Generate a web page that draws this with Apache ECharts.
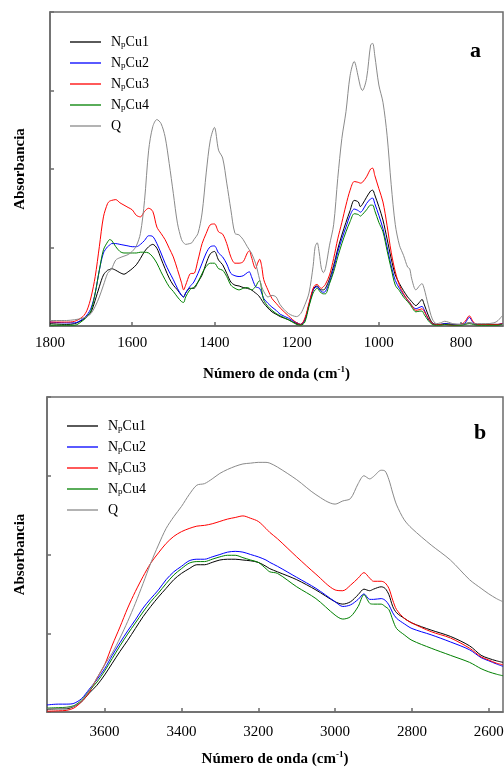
<!DOCTYPE html>
<html>
<head>
<meta charset="utf-8">
<title>FTIR</title>
<script src="https://cdn.jsdelivr.net/npm/echarts@6/dist/echarts.min.js"></script>
<style>
  html, body { margin: 0; padding: 0; background: #fff; }
  #chart { width: 504px; height: 767px; }
</style>
</head>
<body>
<div id="chart"></div>
<script>
// panel a: 1800-700 cm-1
const waveA = [
  1800, 1760, 1740, 1720, 1710, 1700, 1690, 1680, 1670, 1660,
  1655, 1650, 1640, 1630, 1620, 1610, 1600, 1590, 1580, 1570,
  1560, 1550, 1540, 1530, 1520, 1510, 1500, 1490, 1480, 1475,
  1470, 1460, 1455, 1450, 1440, 1430, 1420, 1410, 1400, 1390,
  1380, 1370, 1360, 1350, 1340, 1330, 1320, 1315, 1310, 1300,
  1295, 1290, 1285, 1280, 1270, 1260, 1250, 1240, 1220, 1200,
  1190, 1180, 1170, 1160, 1155, 1150, 1145, 1140, 1135, 1130,
  1120, 1110, 1100, 1090, 1080, 1070, 1060, 1050, 1045, 1040,
  1030, 1020, 1015, 1010, 1000, 990, 980, 970, 960, 950,
  940, 930, 925, 920, 910, 900, 895, 890, 880, 870,
  860, 850, 840, 820, 800, 790, 780, 770, 760, 740,
  720, 710, 700
]
const cu1A = [
  0.03, 0.02, 0.03, 0.08, 0.12, 0.18, 0.33, 0.50, 0.65, 0.71,
  0.72, 0.73, 0.71, 0.68, 0.66, 0.69, 0.73, 0.78, 0.86, 0.95,
  1.01, 1.04, 0.99, 0.86, 0.73, 0.61, 0.52, 0.46, 0.39, 0.37,
  0.42, 0.48, 0.48, 0.48, 0.56, 0.65, 0.80, 0.92, 0.95, 0.84,
  0.78, 0.67, 0.56, 0.52, 0.51, 0.49, 0.48, 0.47, 0.46, 0.42,
  0.40, 0.37, 0.33, 0.29, 0.23, 0.18, 0.15, 0.12, 0.08, 0.03,
  0.02, 0.08, 0.27, 0.46, 0.50, 0.51, 0.48, 0.46, 0.46, 0.48,
  0.60, 0.77, 0.98, 1.16, 1.32, 1.47, 1.60, 1.58, 1.52, 1.55,
  1.64, 1.72, 1.73, 1.67, 1.52, 1.35, 1.11, 0.86, 0.65, 0.54,
  0.45, 0.37, 0.34, 0.31, 0.26, 0.31, 0.34, 0.28, 0.14, 0.04,
  0.02, 0.02, 0.03, 0.02, 0.02, 0.03, 0.04, 0.03, 0.02, 0.02,
  0.02, 0.02, 0.03
]
const cu2A = [
  0.05, 0.04, 0.04, 0.09, 0.14, 0.23, 0.42, 0.71, 0.93, 1.01,
  1.03, 1.05, 1.05, 1.04, 1.03, 1.02, 1.01, 1.01, 1.04, 1.09,
  1.15, 1.14, 1.05, 0.93, 0.80, 0.69, 0.59, 0.48, 0.39, 0.37,
  0.42, 0.50, 0.53, 0.56, 0.67, 0.80, 0.93, 1.01, 1.02, 0.93,
  0.88, 0.79, 0.67, 0.64, 0.63, 0.64, 0.68, 0.69, 0.63, 0.50,
  0.49, 0.48, 0.42, 0.35, 0.29, 0.24, 0.20, 0.15, 0.10, 0.04,
  0.02, 0.08, 0.27, 0.46, 0.49, 0.50, 0.47, 0.44, 0.43, 0.44,
  0.56, 0.73, 0.94, 1.11, 1.26, 1.41, 1.49, 1.47, 1.45, 1.47,
  1.56, 1.62, 1.63, 1.56, 1.41, 1.24, 1.01, 0.77, 0.58, 0.48,
  0.40, 0.33, 0.30, 0.26, 0.22, 0.24, 0.25, 0.21, 0.09, 0.03,
  0.02, 0.02, 0.03, 0.02, 0.02, 0.04, 0.11, 0.04, 0.02, 0.02,
  0.02, 0.02, 0.03
]
const cu3A = [
  0.05, 0.05, 0.06, 0.12, 0.20, 0.37, 0.63, 1.01, 1.39, 1.56,
  1.59, 1.60, 1.61, 1.57, 1.54, 1.51, 1.48, 1.41, 1.39, 1.46,
  1.50, 1.46, 1.26, 1.18, 1.10, 0.99, 0.88, 0.72, 0.55, 0.46,
  0.52, 0.66, 0.67, 0.67, 0.84, 1.05, 1.18, 1.29, 1.30, 1.20,
  1.17, 1.05, 0.88, 0.80, 0.80, 0.82, 0.93, 0.96, 0.88, 0.73,
  0.80, 0.85, 0.76, 0.59, 0.46, 0.35, 0.29, 0.23, 0.13, 0.04,
  0.02, 0.10, 0.29, 0.48, 0.52, 0.53, 0.50, 0.48, 0.50, 0.53,
  0.65, 0.86, 1.11, 1.32, 1.54, 1.73, 1.84, 1.83, 1.82, 1.83,
  1.90, 2.00, 2.01, 1.92, 1.75, 1.58, 1.28, 0.94, 0.69, 0.52,
  0.41, 0.33, 0.30, 0.26, 0.20, 0.21, 0.22, 0.19, 0.10, 0.03,
  0.02, 0.02, 0.02, 0.01, 0.02, 0.06, 0.13, 0.05, 0.02, 0.02,
  0.02, 0.02, 0.03
]
const cu4A = [
  0.01, 0.01, 0.01, 0.07, 0.12, 0.20, 0.42, 0.71, 0.97, 1.07,
  1.10, 1.09, 1.01, 0.95, 0.93, 0.93, 0.93, 0.93, 0.94, 0.94,
  0.93, 0.88, 0.80, 0.69, 0.59, 0.50, 0.44, 0.37, 0.31, 0.30,
  0.37, 0.46, 0.48, 0.49, 0.56, 0.67, 0.76, 0.80, 0.80, 0.73,
  0.71, 0.63, 0.52, 0.48, 0.46, 0.48, 0.49, 0.48, 0.46, 0.50,
  0.55, 0.58, 0.46, 0.33, 0.25, 0.20, 0.16, 0.13, 0.08, 0.02,
  0.01, 0.05, 0.25, 0.42, 0.46, 0.48, 0.45, 0.42, 0.41, 0.41,
  0.54, 0.69, 0.88, 1.05, 1.20, 1.33, 1.43, 1.42, 1.40, 1.42,
  1.48, 1.54, 1.54, 1.47, 1.32, 1.20, 0.96, 0.73, 0.52, 0.45,
  0.37, 0.31, 0.28, 0.24, 0.18, 0.19, 0.19, 0.15, 0.07, 0.02,
  0.01, 0.01, 0.02, 0.01, 0.01, 0.02, 0.03, 0.02, 0.01, 0.01,
  0.01, 0.01, 0.02
]
const qA = [
  0.07, 0.07, 0.08, 0.10, 0.12, 0.16, 0.25, 0.37, 0.52, 0.67,
  0.70, 0.73, 0.84, 0.87, 0.89, 0.91, 0.95, 1.02, 1.18, 1.60,
  2.24, 2.54, 2.63, 2.58, 2.41, 2.07, 1.69, 1.31, 1.10, 1.06,
  1.04, 1.05, 1.06, 1.10, 1.18, 1.44, 1.95, 2.37, 2.53, 2.24,
  2.14, 1.82, 1.48, 1.18, 1.16, 1.10, 1.01, 0.97, 0.93, 0.80,
  0.70, 0.59, 0.50, 0.44, 0.37, 0.39, 0.37, 0.27, 0.16, 0.12,
  0.16, 0.27, 0.42, 0.76, 1.01, 1.06, 0.93, 0.74, 0.68, 0.73,
  1.03, 1.29, 1.88, 2.39, 2.73, 3.19, 3.37, 3.17, 3.05, 3.00,
  3.15, 3.58, 3.60, 3.45, 3.07, 2.85, 2.43, 1.80, 1.29, 1.03,
  0.90, 0.75, 0.73, 0.60, 0.46, 0.52, 0.54, 0.48, 0.27, 0.09,
  0.03, 0.04, 0.06, 0.03, 0.02, 0.03, 0.04, 0.03, 0.03, 0.03,
  0.04, 0.07, 0.13
]

// panel b: 3750-2560 cm-1
const waveB = [
  3750, 3720, 3700, 3680, 3660, 3640, 3620, 3600, 3580, 3560,
  3540, 3520, 3500, 3480, 3460, 3440, 3420, 3400, 3380, 3360,
  3340, 3320, 3300, 3280, 3260, 3240, 3220, 3200, 3180, 3170,
  3150, 3100, 3050, 3000, 2980, 2960, 2940, 2925, 2910, 2900,
  2880, 2870, 2860, 2850, 2840, 2820, 2800, 2750, 2700, 2650,
  2620, 2600, 2580, 2563
]
const cu1B = [
  0.035, 0.04, 0.04, 0.07, 0.13, 0.24, 0.34, 0.47, 0.62, 0.77,
  0.91, 1.06, 1.21, 1.34, 1.46, 1.57, 1.68, 1.76, 1.82, 1.87,
  1.87, 1.90, 1.93, 1.94, 1.94, 1.93, 1.92, 1.90, 1.85, 1.82,
  1.78, 1.68, 1.55, 1.40, 1.37, 1.40, 1.49, 1.56, 1.54, 1.56,
  1.59, 1.57, 1.49, 1.34, 1.26, 1.19, 1.13, 1.04, 0.96, 0.84,
  0.72, 0.68, 0.65, 0.63
]
const cu2B = [
  0.09, 0.10, 0.10, 0.11, 0.17, 0.29, 0.41, 0.55, 0.72, 0.88,
  1.03, 1.17, 1.32, 1.44, 1.55, 1.68, 1.78, 1.85, 1.92, 1.94,
  1.94, 1.97, 2.00, 2.03, 2.04, 2.03, 2.00, 1.97, 1.93, 1.90,
  1.85, 1.71, 1.57, 1.40, 1.34, 1.36, 1.43, 1.50, 1.43, 1.43,
  1.44, 1.42, 1.36, 1.26, 1.19, 1.12, 1.06, 0.98, 0.89, 0.79,
  0.69, 0.65, 0.61, 0.58
]
const cu3B = [
  0.01, 0.015, 0.02, 0.05, 0.13, 0.25, 0.43, 0.60, 0.85, 1.08,
  1.32, 1.53, 1.72, 1.89, 2.02, 2.14, 2.23, 2.29, 2.33, 2.36,
  2.37, 2.39, 2.42, 2.45, 2.47, 2.49, 2.46, 2.42, 2.33, 2.28,
  2.20, 1.97, 1.75, 1.55, 1.54, 1.61, 1.70, 1.77, 1.70, 1.66,
  1.66, 1.64, 1.57, 1.42, 1.30, 1.19, 1.13, 1.02, 0.94, 0.81,
  0.70, 0.66, 0.62, 0.60
]
const cu4B = [
  0.05, 0.055, 0.06, 0.08, 0.15, 0.27, 0.38, 0.52, 0.68, 0.84,
  0.99, 1.13, 1.27, 1.40, 1.51, 1.63, 1.74, 1.82, 1.89, 1.91,
  1.91, 1.94, 1.97, 1.99, 1.99, 1.96, 1.93, 1.90, 1.82, 1.78,
  1.76, 1.59, 1.44, 1.23, 1.18, 1.21, 1.34, 1.49, 1.38, 1.37,
  1.37, 1.34, 1.30, 1.17, 1.06, 0.98, 0.91, 0.81, 0.72, 0.63,
  0.55, 0.51, 0.48, 0.46
]
const qB = [
  0.04, 0.045, 0.05, 0.07, 0.14, 0.27, 0.43, 0.60, 0.75, 0.94,
  1.15, 1.38, 1.63, 1.89, 2.12, 2.33, 2.48, 2.61, 2.76, 2.88,
  2.90, 2.96, 3.03, 3.08, 3.12, 3.15, 3.16, 3.17, 3.17, 3.16,
  3.11, 2.95, 2.76, 2.64, 2.68, 2.71, 2.90, 3.00, 2.96, 2.99,
  3.07, 3.06, 2.95, 2.78, 2.63, 2.44, 2.33, 2.12, 1.93, 1.68,
  1.57, 1.50, 1.44, 1.40
]

const ticksA = [1800, 1600, 1400, 1200, 1000, 800]
const ticksB = [3600, 3400, 3200, 3000, 2800, 2600]

const names = ['NpCu1', 'NpCu2', 'NpCu3', 'NpCu4', 'Q']
const colors = ['#000000', '#0000ff', '#ff0000', '#008000', '#8a8a8a']

const serif = '"Liberation Serif", "Times New Roman", serif'
const axisColor = '#6b6b6b'

function zip(xs, ys) {
  return xs.map((x, i) => [x, ys[i]])
}

function legendLabel(name) {
  if (name === 'Q') return '{n|Q}'
  return '{n|N}{s|p}{n|' + name.slice(2) + '}'
}

function makeXAxis(gridIndex, min, max, ticks, nameGap, labelMargin) {
  return {
    gridIndex: gridIndex,
    type: 'value',
    inverse: true,
    min: min,
    max: max,
    name: 'Número de onda (cm{sup|-1})',
    nameLocation: 'middle',
    nameGap: nameGap,
    nameTextStyle: {
      fontFamily: serif,
      fontWeight: 'bold',
      fontSize: 15,
      color: '#000',
      lineHeight: 18,
      rich: {
        sup: { fontFamily: serif, fontWeight: 'bold', fontSize: 9, lineHeight: 9, verticalAlign: 'top', color: '#000' }
      }
    },
    axisLine: { show: true, lineStyle: { color: axisColor, width: 1.5 } },
    axisTick: { show: true, inside: true, length: 4, customValues: ticks, lineStyle: { color: axisColor, width: 1.5 } },
    axisLabel: {
      customValues: ticks,
      formatter: v => String(v),
      margin: labelMargin,
      fontFamily: serif,
      fontSize: 15,
      color: '#000'
    },
    splitLine: { show: false }
  }
}

function makeYAxis(gridIndex, nameGap) {
  return {
    gridIndex: gridIndex,
    type: 'value',
    min: 0,
    max: 4,
    interval: 1,
    name: 'Absorbancia',
    nameLocation: 'middle',
    nameGap: nameGap,
    nameTextStyle: { fontFamily: serif, fontWeight: 'bold', fontSize: 15, color: '#000' },
    axisLine: { show: true, lineStyle: { color: axisColor, width: 1.5 } },
    axisTick: { show: true, inside: true, length: 4, lineStyle: { color: axisColor, width: 1.5 } },
    axisLabel: { show: false },
    splitLine: { show: false }
  }
}

function makeLegend(left, top) {
  return {
    orient: 'vertical',
    left: left,
    top: top,
    padding: 0,
    icon: 'rect',
    itemWidth: 31,
    itemHeight: 1.3,
    itemGap: 7,
    data: names,
    formatter: legendLabel,
    textStyle: {
      padding: [0, 0, 0, 5],
      rich: {
        n: { fontFamily: serif, fontSize: 14, lineHeight: 14, color: '#000' },
        s: { fontFamily: serif, fontSize: 9, lineHeight: 2, verticalAlign: 'bottom', color: '#000' }
      }
    }
  }
}

const seriesA = [cu1A, cu2A, cu3A, cu4A, qA]
const seriesB = [cu1B, cu2B, cu3B, cu4B, qB]

const series = []
seriesA.forEach((ys, i) => {
  series.push({
    name: names[i], type: 'line', xAxisIndex: 0, yAxisIndex: 0,
    data: zip(waveA, ys), symbol: 'none', smooth: 0.3,
    lineStyle: { color: colors[i], width: 1 }, itemStyle: { color: colors[i] }
  })
})
seriesB.forEach((ys, i) => {
  series.push({
    name: names[i], type: 'line', xAxisIndex: 1, yAxisIndex: 1,
    data: zip(waveB, ys), symbol: 'none', smooth: 0.3,
    lineStyle: { color: colors[i], width: 1 }, itemStyle: { color: colors[i] }
  })
})

const chart = echarts.init(document.getElementById('chart'))
chart.setOption({
  animation: false,
  backgroundColor: '#fff',
  grid: [
    { left: 50, top: 12, width: 453, height: 314, outerBoundsMode: 'none', containLabel: false,
      show: true, borderColor: axisColor, borderWidth: 1.5 },
    { left: 47, top: 397, width: 456, height: 315, outerBoundsMode: 'none', containLabel: false,
      show: true, borderColor: axisColor, borderWidth: 1.5 }
  ],
  xAxis: [
    makeXAxis(0, 698, 1800, ticksA, 39, 10),
    makeXAxis(1, 2563, 3750, ticksB, 38, 13)
  ],
  yAxis: [
    makeYAxis(0, 22),
    makeYAxis(1, 19)
  ],
  legend: [
    makeLegend(70, 35),
    makeLegend(67, 419)
  ],
  graphic: [
    { type: 'text', left: 470, top: 40, style: { text: 'a', font: 'bold 22px ' + serif, fill: '#000' } },
    { type: 'text', left: 474, top: 422, style: { text: 'b', font: 'bold 22px ' + serif, fill: '#000' } }
  ],
  series: series
})
</script>
</body>
</html>
